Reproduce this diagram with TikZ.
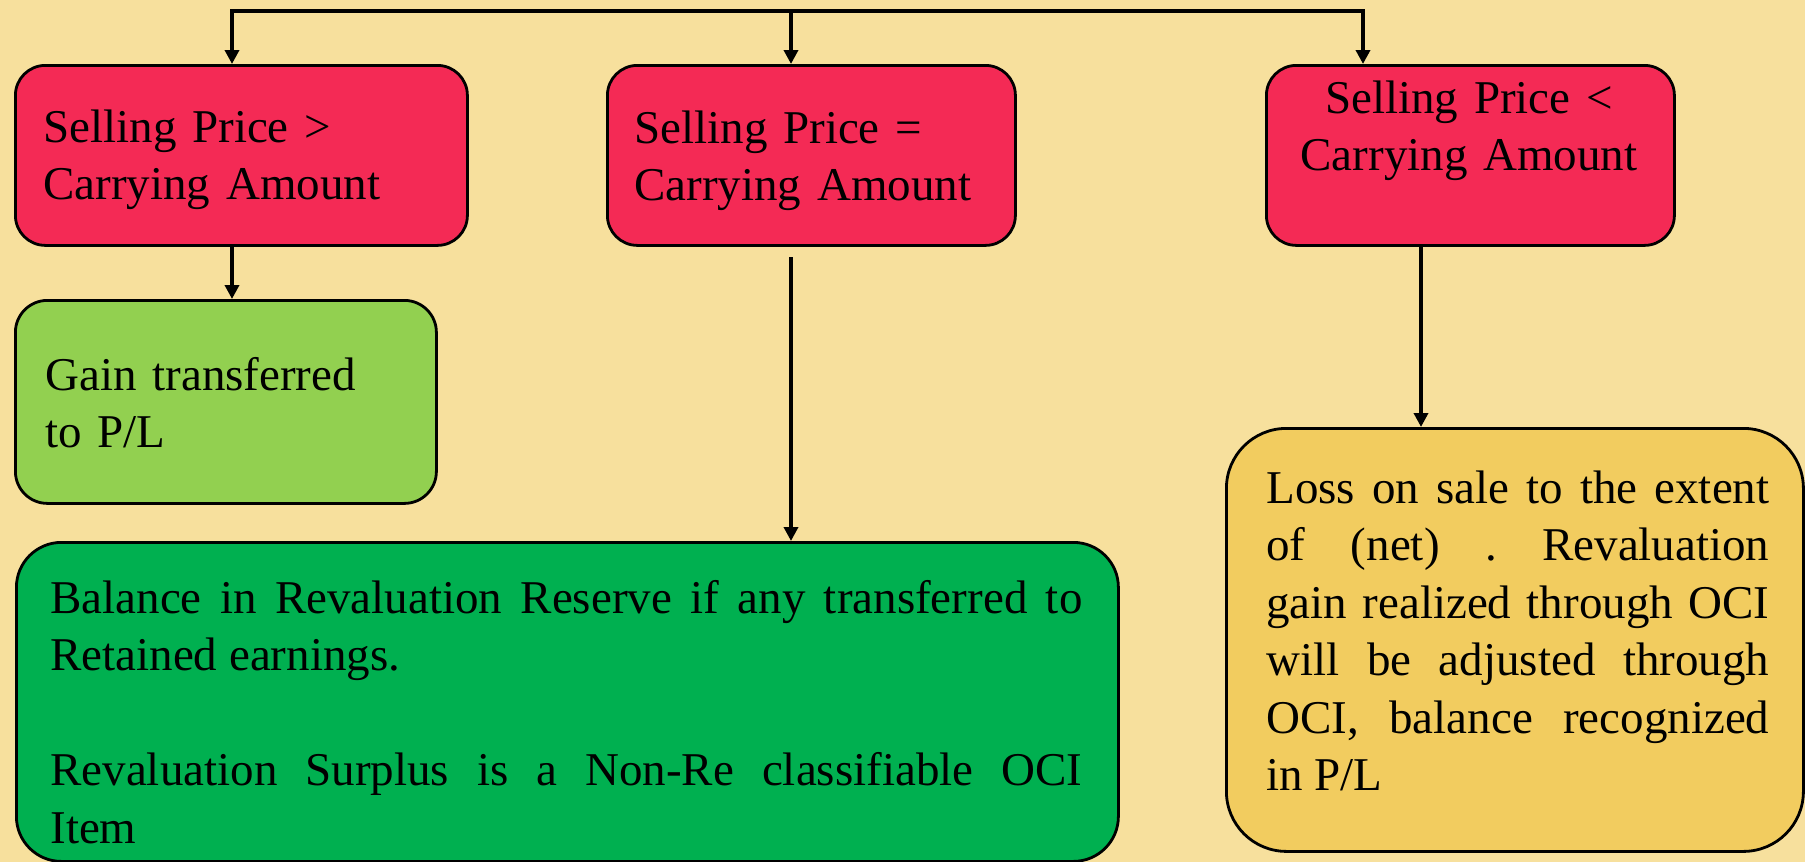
\documentclass[tikz,border=0pt]{standalone}
\usepackage{fontspec}
\setmainfont{Liberation Serif}
\usetikzlibrary{arrows.meta}

\definecolor{bgcream}{HTML}{F7E09D}
\definecolor{condred}{HTML}{F42A55}
\definecolor{gainfill}{HTML}{92D050}
\definecolor{reservefill}{HTML}{00B050}
\definecolor{lossfill}{HTML}{F2CC5F}

\hyphenpenalty=10000\relax
\tolerance=9999\relax
\frenchspacing

\begin{document}
\begin{tikzpicture}[x=0.5pt, y=-0.5pt,
  box/.style={draw=black, line width=1.4pt, inner sep=0pt, anchor=north west},
  boxtext/.style={inner sep=0pt, anchor=base west, font=\fontsize{23.5}{28.75}\selectfont},
  link/.style={line width=2pt, -{Triangle[length=7pt, width=7pt]}},
  bar/.style={line width=2.4pt, line cap=rect}
]
\useasboundingbox (0,0) rectangle (1805,862);
\fill[bgcream] (0,0) rectangle (1805,862);

% condition boxes
\node[box, fill=condred, rounded corners=15pt, minimum width=226pt, minimum height=90pt] (b1) at (14,64) {};
\node[box, fill=condred, rounded corners=15pt, minimum width=204pt, minimum height=90pt] (b2) at (606,64) {};
\node[box, fill=condred, rounded corners=15pt, minimum width=204pt, minimum height=90pt] (b3) at (1265,64) {};

\node[boxtext, text width=200pt, align=left] (b1t) at (43,142) {Selling Price >\\Carrying Amount};
\node[boxtext, text width=200pt, align=left] (b2t) at (634,143) {Selling Price =\\Carrying Amount};
\node[boxtext, anchor=base, text width=200pt, align=center] (b3t) at (1469,113) {Selling Price <\\Carrying Amount};

% outcome boxes
\node[box, fill=gainfill, rounded corners=16pt, minimum width=210.5pt, minimum height=101.5pt] (g1) at (14,299) {};
\node[boxtext, text width=190pt, align=left] (g1t) at (45,390) {Gain transferred\\to P/L};

\node[box, fill=reservefill, rounded corners=22.5pt, minimum width=551pt, minimum height=159.5pt] (rv) at (15,541) {};
\node[boxtext, text width=516pt, align=justify] (rvt) at (50,613)
  {Balance in Revaluation Reserve if any transferred to\linebreak Retained earnings.\par\vspace{28.75pt}
   Revaluation Surplus is a Non-Re classifiable OCI\linebreak Item};

\node[box, fill=lossfill, rounded corners=30pt, minimum width=288.5pt, minimum height=211.5pt] (ls) at (1225,427) {};
\node[boxtext, text width=251.5pt, align=justify] (lst) at (1266,503)
  {Loss on sale to the extent\linebreak of (net) . Revaluation\linebreak gain realized through OCI\linebreak
   will be adjusted through\linebreak OCI, balance recognized\linebreak in P/L};

% distribution bar and connectors
\coordinate (split1) at (232,11);
\coordinate (split2) at (791,11);
\coordinate (split3) at (1363,11);
\coordinate (midstart) at (791,257);
\coordinate (lossx) at (1421,0);

\draw[bar] (split1) -- (split3);
\draw[link] (split1) -- (split1 |- b1.north);
\draw[link] (split2) -- (split2 |- b2.north);
\draw[link] (split3) -- (split3 |- b3.north);

\draw[link] (split1 |- b1.south) -- (split1 |- g1.north);
\draw[link] (midstart) -- (midstart |- rv.north);
\draw[link] (lossx |- b3.south) -- (lossx |- ls.north);
\end{tikzpicture}
\end{document}
